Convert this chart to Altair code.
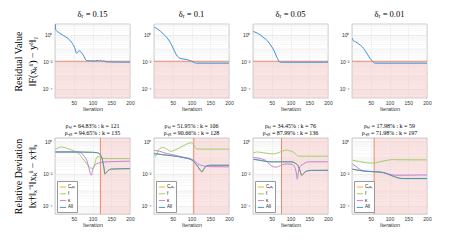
import altair as alt
import pandas as pd

# ---------------- data ----------------
DELTAS = ["0.15", "0.1", "0.05", "0.01"]
THRESHOLD = [0.0105, 0.0105, 0.0105, 0.0105]
K_KL = [121, 106, 76, 59]
RHO_KL = ["64.83", "51.95", "34.45", "17.98"]
K_OPT = [135, 128, 136, 197]
RHO_OPT = ["94.65", "90.66", "87.99", "71.98"]

# residual ||F(x_k) - y||  (log10 of value)
RES_ITER = [
    [1, 2, 5, 10, 22, 35, 44, 52, 58, 62, 65, 69, 76, 84, 95, 105, 112, 118, 122, 126, 130, 135, 140, 160, 200],
    [1, 10, 25, 35, 43, 50, 56, 62, 69, 80, 87, 100, 108, 113, 200],
    [1, 15, 27, 38, 45, 52, 58, 64, 70, 75, 200],
    [1, 3, 10, 18, 27, 35, 42, 49, 55, 62, 200],
]
RES_LOG10 = [
    [0.76, 0.35, 0.25, 0.15, -0.07, -0.3, -0.57, -0.95, -1.39, -1.25, -1.2, -1.3, -1.55, -1.93, -1.95, -1.96, -1.92, -1.97, -1.9, -1.99, -1.94, -2.02, -2.03, -2.04, -2.05],
    [0.54, 0.4, 0.04, -0.25, -0.57, -0.95, -1.31, -1.6, -1.75, -1.82, -1.85, -1.98, -2.08, -2.12, -2.12],
    [0.22, 0.05, -0.2, -0.45, -0.7, -1.0, -1.31, -1.7, -2.0, -2.05, -2.05],
    [-0.27, -0.44, -0.55, -0.7, -0.9, -1.19, -1.5, -1.8, -2.0, -2.12, -2.12],
]

SERIES = ["Cₛₐₜ", "f", "κ", "All"]
COLORS = ["#f0b429", "#a2cf68", "#c383d3", "#4193d3"]

# relative deviation (log10 of value), per series, per panel
DEV_ITER = {
    "Cₛₐₜ": [
        [1, 60, 100, 111, 120, 127, 131, 133, 136, 142, 150, 200],
        [1, 20, 50, 77, 100, 110, 118, 124, 128, 133, 140, 150, 200],
        [1, 20, 45, 104, 112, 120, 126, 130, 134, 142, 155, 200],
        [1, 20, 39, 60, 83, 95, 110, 125, 137, 200],
    ],
    "f": [
        [1, 18, 30, 51, 65, 74, 85, 95, 102, 106, 112, 118, 125, 140, 200],
        [1, 4, 8, 15, 25, 35, 45, 55, 70, 85, 96, 100, 106, 114, 120, 200],
        [1, 10, 25, 40, 54, 70, 85, 92, 100, 108, 115, 122, 200],
        [1, 20, 40, 57, 70, 83, 100, 110, 119, 200],
    ],
    "κ": [
        [1, 60, 70, 77, 85, 90, 95, 97, 101, 108, 115, 125, 140, 200],
        [1, 15, 35, 60, 77, 100, 110, 116, 125, 135, 150, 200],
        [1, 12, 25, 35, 45, 55, 62, 68, 78, 90, 104, 110, 115, 118, 121, 126, 135, 142, 150, 200],
        [1, 10, 22, 35, 60, 83, 101, 119, 200],
    ],
    "All": [
        [1, 60, 100, 111, 120, 127, 131, 133, 136, 142, 150, 200],
        [1, 20, 50, 77, 100, 110, 118, 124, 128, 133, 140, 150, 200],
        [1, 20, 45, 104, 112, 120, 126, 130, 134, 142, 155, 200],
        [1, 20, 39, 60, 83, 95, 110, 125, 137, 200],
    ],
}
DEV_LOG10 = {
    "Cₛₐₜ": [
        [-0.66, -0.66, -0.68, -0.7, -0.8, -1.2, -1.75, -2.06, -1.97, -1.8, -1.72, -1.69],
        [-0.76, -0.82, -0.9, -1.0, -1.15, -1.35, -1.6, -1.82, -1.92, -1.72, -1.53, -1.48, -1.48],
        [-1.11, -1.18, -1.27, -1.27, -1.35, -1.5, -1.88, -2.15, -2.03, -1.86, -1.8, -1.79],
        [-1.73, -1.81, -1.86, -1.89, -1.94, -2.03, -2.17, -2.28, -2.31, -2.31],
    ],
    "f": [
        [-0.5, -0.35, -0.42, -0.6, -0.8, -1.07, -1.4, -1.65, -1.68, -1.4, -0.96, -0.95, -1.05, -1.07, -1.07],
        [-0.7, -0.95, -0.75, -0.45, -0.38, -0.5, -0.62, -0.55, -0.38, -0.2, -0.1, -0.1, -0.22, -0.47, -0.48, -0.48],
        [-0.72, -0.66, -0.7, -0.75, -0.78, -0.68, -0.56, -0.55, -0.6, -0.68, -0.82, -0.92, -0.92],
        [-1.17, -1.25, -1.33, -1.35, -1.3, -1.22, -1.15, -1.13, -1.14, -1.15],
    ],
    "κ": [
        [-0.66, -0.66, -0.72, -0.9, -1.2, -1.6, -2.05, -2.1, -1.7, -1.45, -1.35, -1.3, -1.27, -1.23],
        [-0.55, -0.62, -0.76, -0.88, -0.98, -1.1, -1.25, -1.38, -1.48, -1.53, -1.57, -1.58],
        [-1.0, -1.03, -1.1, -1.2, -1.45, -1.58, -1.6, -1.55, -1.45, -1.4, -1.42, -1.55, -1.9, -2.34, -1.9, -1.55, -1.4, -1.3, -1.27, -1.27],
        [-1.4, -1.55, -1.75, -1.85, -1.88, -1.92, -2.05, -2.1, -2.08],
    ],
    "All": [
        [-0.66, -0.66, -0.68, -0.7, -0.8, -1.2, -1.7, -2.0, -1.95, -1.8, -1.72, -1.69],
        [-0.76, -0.82, -0.9, -1.0, -1.15, -1.35, -1.6, -1.8, -1.87, -1.7, -1.52, -1.48, -1.48],
        [-1.11, -1.18, -1.27, -1.27, -1.35, -1.5, -1.85, -2.09, -2.0, -1.85, -1.8, -1.79],
        [-1.72, -1.8, -1.85, -1.88, -1.93, -2.02, -2.16, -2.27, -2.3, -2.3],
    ],
}

# ---------------- styling ----------------
W, H_TOP, H_BOT = 75, 74, 76
X_DOM = [0, 200]
Y_DOM_TOP = [2e-5, 6]
Y_DOM_BOT = [3.2e-5, 1.6]
SERIF = "Liberation Serif"
SANS = "Liberation Sans"
RES_COLOR = "#3d8fd2"
MARK_COLOR = "#ea8a6c"
PINK = "#f3c4c4"

EXP = "round(log(datum.value)/LN10)"
DECADE = "abs(log(datum.value)/LN10 - " + EXP + ") < 0.01"
LABELLED = DECADE + " && (" + EXP + " % 2 == 0)"
LABEL_EXPR = (
    LABELLED + " ? '10' + replace(replace(replace(replace(''+" + EXP + ","
    " '-', '⁻'), '0', '⁰'), '2', '²'), '4', '⁴') : ''"
)


def minor_values(lo, hi):
    vals = []
    for e in range(-6, 2):
        for m in range(1, 10):
            v = m * 10.0 ** e
            if lo <= v <= hi:
                vals.append(v)
    return vals


def x_axis():
    return alt.Axis(values=[50, 100, 150, 200], title="Iteration", ticks=False, domain=False,
                    labelFontSize=5, labelPadding=2, labelColor="#333", titleFontSize=5.5,
                    titleFont=SANS, titleFontWeight="normal", titlePadding=1.5, titleColor="#333",
                    gridColor="#e2e2e2", gridWidth=0.5, labelFlush=False)


def y_axis(dom, title):
    return alt.Axis(values=minor_values(*dom), labelExpr=LABEL_EXPR, labelOverlap=False, ticks=False,
                    domain=False, labelFontSize=5, labelPadding=3, labelColor="#333",
                    gridColor={"condition": {"test": LABELLED, "value": "#dedede"}, "value": "#f1f1f1"},
                    gridWidth=0.5, titleFont=SERIF, titleFontSize=10, titleFontWeight="normal",
                    titlePadding=5, titleLineHeight=14, titleColor="black", title=title)


def top_panel(i):
    xs = alt.Scale(domain=X_DOM, nice=False, zero=False)
    ys = alt.Scale(type="log", domain=Y_DOM_TOP, nice=False)
    ttl = ["Residual Value", "‖F(xₖᵟ) − yᵟ‖ᵧ"] if i == 0 else None
    xa, ya = x_axis(), y_axis(Y_DOM_TOP, ttl)
    thr = pd.DataFrame({"thr": [THRESHOLD[i]]})
    res = pd.DataFrame({"iter": RES_ITER[i], "value": [10 ** v for v in RES_LOG10[i]]})
    band = alt.Chart(thr).mark_rect(color=PINK, opacity=0.45).encode(
        x=alt.value(0), x2=alt.value(W),
        y=alt.Y("thr:Q", scale=ys, axis=ya), y2=alt.value(H_TOP))
    rule = alt.Chart(thr).mark_rule(color=MARK_COLOR, strokeWidth=1).encode(
        y=alt.Y("thr:Q", scale=ys, axis=ya))
    line = alt.Chart(res).mark_line(color=RES_COLOR, strokeWidth=1, interpolate="monotone", clip=True).encode(
        x=alt.X("iter:Q", scale=xs, axis=xa),
        y=alt.Y("value:Q", scale=ys, axis=ya))
    return alt.layer(band, rule, line).properties(
        width=W, height=H_TOP,
        title=alt.TitleParams(f"δᵣ =  {DELTAS[i]}", font=SERIF, fontSize=8.5,
                              fontWeight="normal", offset=4, color="black"))


def bottom_panel(i):
    xs = alt.Scale(domain=X_DOM, nice=False, zero=False)
    ys = alt.Scale(type="log", domain=Y_DOM_BOT, nice=False)
    ttl = ["Relative Deviation", "‖x†‖ₓ⁻¹‖xₖᵟ − x†‖ₓ"] if i == 0 else None
    xa, ya = x_axis(), y_axis(Y_DOM_BOT, ttl)
    kdf = pd.DataFrame({"k": [K_KL[i]]})
    rows = []
    for s in SERIES:
        for it, lg in zip(DEV_ITER[s][i], DEV_LOG10[s][i]):
            rows.append({"iter": it, "value": 10 ** lg, "series": s})
    dev = pd.DataFrame(rows)
    band = alt.Chart(kdf).mark_rect(color=PINK, opacity=0.45).encode(
        x=alt.X("k:Q", scale=xs, axis=xa), x2=alt.value(W),
        y=alt.value(0), y2=alt.value(H_BOT))
    rule = alt.Chart(kdf).mark_rule(color=MARK_COLOR, strokeWidth=1).encode(
        x=alt.X("k:Q", scale=xs, axis=xa))
    lines = alt.Chart(dev).mark_line(strokeWidth=1, interpolate="monotone", clip=True).encode(
        x=alt.X("iter:Q", scale=xs, axis=xa),
        y=alt.Y("value:Q", scale=ys, axis=ya),
        color=alt.Color("series:N", scale=alt.Scale(domain=SERIES, range=COLORS),
                        legend=alt.Legend(title=None, orient="bottom-left", offset=2, padding=2,
                                          strokeColor="#999", fillColor="white",
                                          labelFontSize=4.5, labelFont=SANS, labelColor="#222",
                                          symbolType="stroke", symbolSize=40, symbolStrokeWidth=1,
                                          rowPadding=0.8, labelOffset=1, labelLimit=40)),
        detail="series:N")
    return alt.layer(band, rule, lines).properties(
        width=W, height=H_BOT,
        title=alt.TitleParams([f"ρₖₗ = {RHO_KL[i]}% : k = {K_KL[i]}",
                               f"ρₒₚₜ = {RHO_OPT[i]}% : k = {K_OPT[i]}"],
                              font=SERIF, fontSize=6, lineHeight=7, fontWeight="normal",
                              offset=2, color="black"))


panels = [top_panel(i) for i in range(4)] + [bottom_panel(i) for i in range(4)]
chart = alt.concat(*panels, columns=4, spacing={"row": 40, "column": 24}, bounds="flush",
                   align="each").resolve_legend(color="independent").properties(
    padding={"left": 4, "top": 1, "right": 4, "bottom": 2}, background="white"
).configure_view(stroke="#9a9a9a", strokeWidth=0.6).configure_axis(labelFont=SANS)

chart.save("out.html", embed_options={"renderer": "svg", "actions": False})
